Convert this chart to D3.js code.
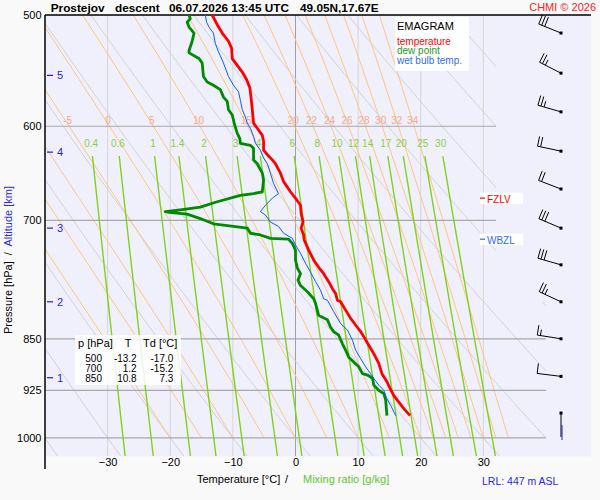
<!DOCTYPE html>
<html>
<head>
<meta charset="utf-8">
<script src="https://cdn.jsdelivr.net/npm/d3@7"></script>
<style>
  body { margin: 0; background: #f9f9f9; }
  text { font-family: "Liberation Sans", Arial, sans-serif; }
</style>
</head>
<body>
<svg id="chart" width="600" height="500"></svg>
<script>

    // Sounding profiles: pressure [hPa] / temperature [°C]
    var tempP = [500,508,515,522,528,537,543,549,556,563,572,584,597,602,609,615,624,630,634,638,648,657,668,677,683,692,702,709,717,723,735,747,756,764,774,783,789,798,800,811,822,831,840,847,859,871,885,900,912,922,933,943,953,964];
    var tempT = [-13.3,-12.5,-11.7,-10.7,-10.2,-10.1,-9.3,-8.5,-7.8,-7.3,-7.1,-6.9,-6.7,-6.1,-5.3,-5.1,-5.1,-4.3,-3.7,-3.2,-2.4,-1.9,-0.8,0.2,0.8,0.9,1.2,0.9,1.3,1.4,2.1,2.9,3.7,4.5,5.3,5.9,6.4,6.7,7.2,8.0,8.8,9.6,10.4,10.9,11.7,12.5,13.3,13.8,14.6,15.1,15.7,16.5,17.3,18.3];

    var dewP = [500,503,506,510,515,522,530,532,537,541,553,558,561,565,572,576,584,589,599,607,612,617,619,622,634,638,648,655,668,670,672,679,685,688,690,691,693,698,704,707,709,715,717,721,722,727,735,747,757,764,772,779,787,796,802,818,824,834,840,845,857,866,876,883,890,900,902,907,917,925,930,940,964];
    var dewT = [-17.0,-16.8,-17.3,-17.0,-16.2,-16.5,-17.0,-17.0,-15.4,-14.9,-14.7,-14.1,-13.1,-12.0,-11.5,-10.9,-10.7,-10.1,-9.7,-9.3,-8.9,-8.8,-7.2,-6.7,-6.7,-6.1,-5.3,-5.1,-5.3,-6.7,-8.8,-12.5,-15.2,-18.4,-20.8,-20.2,-17.3,-15.2,-13.1,-9.9,-7.7,-7.2,-5.6,-4.0,-1.1,-0.5,0.0,0.0,0.3,0.8,0.4,0.8,1.9,2.9,3.2,3.7,5.1,5.6,6.1,6.9,7.5,8.0,8.5,9.3,10.1,10.7,11.5,12.3,12.5,13.3,14.1,14.4,14.6];

    var wetP = [500,506,511,515,524,531,541,553,561,567,575,584,591,597,602,610,617,624,632,638,648,659,670,675,683,690,694,702,707,715,721,729,739,751,762,774,785,796,798,813,829,838,852,866,878,890,900,907,917,925,938,948,964];
    var wetT = [-14.4,-14.2,-13.7,-13.1,-12.8,-12.3,-11.5,-10.7,-9.9,-9.1,-8.8,-8.5,-8.0,-7.7,-7.2,-6.7,-6.4,-5.6,-5.1,-4.5,-4.0,-3.5,-2.7,-3.7,-4.8,-5.6,-4.8,-4.0,-2.7,-1.9,-0.5,0.0,0.8,1.6,2.4,3.2,4.0,4.5,5.1,6.1,7.2,8.3,9.1,9.6,10.4,11.2,12.0,12.5,13.3,14.1,14.6,15.2,16.0];

    // Summary table
    var tableP = [500, 700, 850];
    var tableT = [-13.2, 1.2, 10.8];
    var tableTd = [-17.0, -15.2, 7.3];

    // Axes and diagram lines
    var pressureTicks = [500, 600, 700, 850, 925, 1000];
    var tempTicks = [-30, -20, -10, 0, 10, 20, 30];
    var altKm = [1, 2, 3, 4, 5];
    var altP = [906, 800, 709, 626, 552];
    var dryTheta = [-40,-30,-20,-10,0,10,20,30,40,50,60,70,80,90,100,110];
    var moistTw = [-20,-15,-10,-5,0,5,10,15,20,22,24,26,28,30,32,34];
    var moistLabels = [-5,0,5,10,15,20,22,24,26,28,30,32,34];
    var mixRatios = [0.4,0.6,1,1.4,2,3,4,6,8,10,12,14,17,20,25,30];

    // Winds
    var windP = [960, 904, 850, 800, 753, 709, 665, 625, 586, 550, 515];
    var windDir = [180, 277, 279, 295, 286, 293, 291, 282, 286, 297, 292];
    var windSpd = [0, 10, 15, 25, 30, 30, 20, 20, 25, 25, 30];

    // Freezing / wet bulb zero levels
    var levelNames = ["FZLV", "WBZL"];
    var levelP = [675, 722];
    var levelColors = ["#ff0000", "#2f6fe8"];


    var svg = d3.select("#chart");

    var x = d3.scaleLinear().domain([-40, 40]).range([45, 546]);
    var y = d3.scaleLog().domain([500, 1030]).range([15, 456]);

    var line = d3.line()
        .x(function(d) { return x(d[1]); })
        .y(function(d) { return y(d[0]); });

    svg.append("rect")
        .attr("x", 45).attr("y", 15)
        .attr("width", 546).attr("height", 441.5)
        .attr("fill", "#f0f0fd");

    svg.append("clipPath").attr("id", "plotclip")
      .append("path")
        .attr("d", "M45,15H" + x(32) + "V" + y(800) + "H" + x(40) + "V456H45Z");

    var grid = svg.append("g").attr("clip-path", "url(#plotclip)");

    // isotherms
    grid.selectAll(".iso").data(tempTicks).enter().append("line")
        .attr("x1", function(d) { return x(d); })
        .attr("x2", function(d) { return x(d); })
        .attr("y1", 15).attr("y2", 456)
        .attr("stroke", function(d) { return d == 0 ? "#a0a0a0" : "#d6d6d6"; })
        .attr("stroke-width", 1);

    // dry adiabats
    var dryLines = dryTheta.map(function(th) {
        var pts = [];
        for (var p = 500; p <= 1030; p += 5) {
            pts.push([p, (th + 273.15) * Math.pow(p / 1000, 0.2857) - 273.15]);
        }
        return pts;
    });
    grid.selectAll(".dry").data(dryLines).enter().append("path")
        .attr("d", line)
        .attr("fill", "none")
        .attr("stroke", "#d2d2d2")
        .attr("stroke-width", 1);

    // pseudo-adiabats
    function satMix(t, p) {
        var es = 6.112 * Math.exp(17.67 * t / (t + 243.5));
        return 0.622 * es / (p - es);
    }
    function moistLapse(tK, p) {
        var rs = satMix(tK - 273.15, p);
        var num = 287.04 * tK + 2.501e6 * rs;
        var den = 1005.7 + 2.501e6 * 2.501e6 * rs * 0.622 / (287.04 * tK * tK);
        return num / (den * p);
    }
    function moistLine(tw) {
        var pts = [], tK = tw + 273.15, p = 1000, dp = -2;
        pts.push([p, tw]);
        while (p > 500) {
            var k1 = moistLapse(tK, p);
            var k2 = moistLapse(tK + k1 * dp, p + dp);
            tK += (k1 + k2) / 2 * dp;
            p += dp;
            pts.push([p, tK - 273.15]);
        }
        return pts;
    }
    var moistLines = moistTw.map(moistLine);
    grid.selectAll(".moist").data(moistLines).enter().append("path")
        .attr("d", line)
        .attr("fill", "none")
        .attr("stroke", "#ffc27a")
        .attr("stroke-width", 1);

    // pressure lines
    grid.selectAll(".plev").data(pressureTicks.slice(1)).enter().append("line")
        .attr("x1", 45).attr("x2", 546)
        .attr("y1", function(d) { return y(d); })
        .attr("y2", function(d) { return y(d); })
        .attr("stroke", "#a8a8a8")
        .attr("stroke-width", 1.2);

    // mixing ratio lines
    function mixTd(r, p) {
        var e = r * p / (622 + r);
        var l = Math.log(e / 6.112);
        return 243.5 * l / (17.67 - l);
    }
    var mixLines = mixRatios.map(function(r) {
        var pts = [];
        for (var p = 630; p <= 1030; p += 10) pts.push([p, mixTd(r, p)]);
        return pts;
    });
    grid.selectAll(".mix").data(mixLines).enter().append("path")
        .attr("d", line)
        .attr("fill", "none")
        .attr("stroke", "#7fd21a")
        .attr("stroke-width", 1.4);

    // labels of pseudo-adiabats on the 600 hPa line
    svg.selectAll(".mlab").data(moistLabels).enter().append("text")
        .attr("x", function(d) {
            var pts = moistLine(d).filter(function(q) { return q[0] <= 600; });
            return x(pts[0][1]) - 1.5;
        })
        .attr("y", 124)
        .attr("text-anchor", "middle")
        .attr("font-size", "10px")
        .attr("fill", "#f6a891")
        .text(function(d) { return d; });

    // mixing ratio labels
    svg.selectAll(".rlab").data(mixRatios).enter().append("text")
        .attr("x", function(d) { return x(mixTd(d, 617)); })
        .attr("y", 146.5)
        .attr("text-anchor", "middle")
        .attr("font-size", "10px")
        .attr("fill", "#8ccf3c")
        .text(function(d) { return d; });

    // top frame and left axis line
    svg.append("line").attr("x1", 45).attr("x2", 591).attr("y1", 15).attr("y2", 15)
        .attr("stroke", "#000").attr("stroke-width", 1.5);
    svg.append("line").attr("x1", 45).attr("x2", 45).attr("y1", 15).attr("y2", 469)
        .attr("stroke", "#000").attr("stroke-width", 1.5);

    // pressure axis
    var yAxis = svg.append("g")
        .attr("transform", "translate(45,0)")
        .call(d3.axisLeft(y).tickValues(pressureTicks).tickSize(0).tickPadding(3.5).tickFormat(d3.format("d")));
    yAxis.select(".domain").remove();
    yAxis.selectAll("text").attr("font-size", "11px").attr("font-family", "Liberation Sans, Arial").attr("fill", "#000");

    // temperature axis
    var xAxis = svg.append("g")
        .attr("transform", "translate(0,456)")
        .call(d3.axisBottom(x).tickValues(tempTicks).tickSize(0).tickPadding(2));
    xAxis.select(".domain").remove();
    xAxis.selectAll("text").attr("font-size", "11px").attr("font-family", "Liberation Sans, Arial").attr("fill", "#000");

    // altitude ticks
    var alt = svg.selectAll(".alt").data(altKm).enter().append("g")
        .attr("transform", function(d, i) { return "translate(0," + y(altP[i]) + ")"; });
    alt.append("line").attr("x1", 47).attr("x2", 53).attr("stroke", "#1f1fe0").attr("stroke-width", 1.2);
    alt.append("text").attr("x", 57).attr("y", 4)
        .attr("font-size", "11px").attr("fill", "#1f1fe0")
        .text(function(d) { return d; });

    // profiles
    function profile(P, T) { return P.map(function(p, i) { return [p, T[i]]; }); }

    svg.append("path").datum(profile(dewP, dewT))
        .attr("d", line).attr("fill", "none")
        .attr("stroke", "#008a00").attr("stroke-width", 2.8)
        .attr("stroke-linejoin", "round");
    svg.append("path").datum(profile(wetP, wetT))
        .attr("d", line).attr("fill", "none")
        .attr("stroke", "#0a5cff").attr("stroke-width", 1);
    svg.append("path").datum(profile(tempP, tempT))
        .attr("d", line).attr("fill", "none")
        .attr("stroke", "#ff0000").attr("stroke-width", 2.8)
        .attr("stroke-linejoin", "round");

    // freezing level labels
    var lev = svg.selectAll(".lev").data(levelNames).enter().append("g")
        .attr("transform", function(d, i) { return "translate(480," + y(levelP[i]) + ")"; });
    lev.append("rect").attr("x", 0).attr("y", -5.5).attr("width", 43).attr("height", 11.5)
        .attr("fill", "#ffffff").attr("opacity", 0.9);
    lev.append("line").attr("x1", 0).attr("x2", 5)
        .attr("stroke", function(d, i) { return levelColors[i]; }).attr("stroke-width", 1.2);
    lev.append("text").attr("x", 7).attr("y", 4.5)
        .attr("font-size", "10px")
        .attr("fill", function(d, i) { return levelColors[i]; })
        .text(function(d) { return d; });

    // legend
    svg.append("rect").attr("x", 395).attr("y", 17).attr("width", 74).attr("height", 54)
        .attr("fill", "#ffffff").attr("opacity", 0.9);
    svg.append("text").attr("x", 397).attr("y", 30).attr("font-size", "11px").attr("fill", "#000").text("EMAGRAM");
    var legendItems = ["temperature", "dew point", "wet bulb temp."];
    var legendColors = ["#ff0000", "#1e9a1e", "#2f6fe8"];
    svg.selectAll(".leg").data(legendItems).enter().append("text")
        .attr("x", 397)
        .attr("y", function(d, i) { return 44.5 + i * 9.7; })
        .attr("font-size", "10px")
        .attr("fill", function(d, i) { return legendColors[i]; })
        .text(function(d) { return d; });

    // table
    svg.append("rect").attr("x", 75).attr("y", 335).attr("width", 106).attr("height", 50)
        .attr("fill", "#ffffff").attr("opacity", 0.85);
    svg.append("text").attr("x", 78).attr("y", 347).attr("font-size", "11px").text("p [hPa]");
    svg.append("text").attr("x", 128).attr("y", 347).attr("font-size", "11px").attr("text-anchor", "middle").text("T");
    svg.append("text").attr("x", 143).attr("y", 347).attr("font-size", "11px").text("Td [°C]");
    var rows = svg.selectAll(".row").data(tableP).enter().append("g")
        .attr("transform", function(d, i) { return "translate(0," + (361.5 + i * 10) + ")"; });
    rows.append("text").attr("x", 102).attr("text-anchor", "end").attr("font-size", "10px")
        .text(function(d) { return d; });
    rows.append("text").attr("x", 136.7).attr("text-anchor", "end").attr("font-size", "10px")
        .text(function(d, i) { return tableT[i].toFixed(1); });
    rows.append("text").attr("x", 173.3).attr("text-anchor", "end").attr("font-size", "10px")
        .text(function(d, i) { return tableTd[i].toFixed(1); });

    // wind barbs
    var barbs = svg.append("g");
    windP.forEach(function(p, i) {
        var px = 561, py = y(p);
        var a = windDir[i] * Math.PI / 180;
        var ux = Math.sin(a), uy = -Math.cos(a);
        var L = 24;
        var ex = px + ux * L, ey = py + uy * L;
        barbs.append("line").attr("x1", px).attr("y1", py).attr("x2", ex).attr("y2", ey)
            .attr("stroke", "#000").attr("stroke-width", 1);
        var fx = -uy, fy = ux;
        var n10 = Math.floor(windSpd[i] / 10), n5 = Math.round((windSpd[i] % 10) / 5);
        var pos = 0;
        for (var k = 0; k < n10; k++) {
            var sx = ex - ux * pos, sy = ey - uy * pos;
            barbs.append("line").attr("x1", sx).attr("y1", sy)
                .attr("x2", sx + fx * 10).attr("y2", sy + fy * 10)
                .attr("stroke", "#000").attr("stroke-width", 1);
            pos += 3.2;
        }
        if (n5) {
            var hx = ex - ux * pos, hy = ey - uy * pos;
            barbs.append("line").attr("x1", hx).attr("y1", hy)
                .attr("x2", hx + fx * 6).attr("y2", hy + fy * 6)
                .attr("stroke", "#000").attr("stroke-width", 1);
        }
        if (windSpd[i] == 0) {
            barbs.append("line").attr("x1", px + 1).attr("y1", py + 12).attr("x2", px + 1).attr("y2", py + 27)
                .attr("stroke", "#1f1fe0").attr("stroke-width", 1);
        }
        barbs.append("rect").attr("x", px - 1.5).attr("y", py - 1.5).attr("width", 3).attr("height", 3)
            .attr("fill", "#000");
    });

    // titles
    var title = [["Prostejov", 50.7], ["descent", 115], ["06.07.2026 13:45 UTC", 169], ["49.05N,17.67E", 300]];
    svg.selectAll(".title").data(title).enter().append("text")
        .attr("x", function(d) { return d[1]; })
        .attr("y", 11.5)
        .attr("font-size", "11.8px").attr("font-weight", "bold")
        .text(function(d) { return d[0]; });
    svg.append("text").attr("x", 596).attr("y", 11).attr("text-anchor", "end")
        .attr("font-size", "11px").attr("fill", "#ff2020").text("CHMI © 2026");

    svg.append("text").attr("x", 197).attr("y", 482.7).attr("font-size", "11px").text("Temperature [°C]");
    svg.append("text").attr("x", 285).attr("y", 482.7).attr("font-size", "11px").text("/");
    svg.append("text").attr("x", 303).attr("y", 482.7).attr("font-size", "11px").attr("fill", "#5cc832").text("Mixing ratio [g/kg]");
    svg.append("text").attr("x", 482).attr("y", 485).attr("font-size", "10.5px").attr("fill", "#2828e6").text("LRL: 447 m ASL");

    var ytitle = svg.append("text")
        .attr("transform", "translate(12,334) rotate(-90)")
        .attr("font-size", "11px")
        .attr("xml:space", "preserve")
        .style("white-space", "pre");
    ytitle.append("tspan").attr("fill", "#000").text("Pressure [hPa]  /  ");
    ytitle.append("tspan").attr("fill", "#2a2ae6").text("Altitude [km]");

</script>
</body>
</html>
